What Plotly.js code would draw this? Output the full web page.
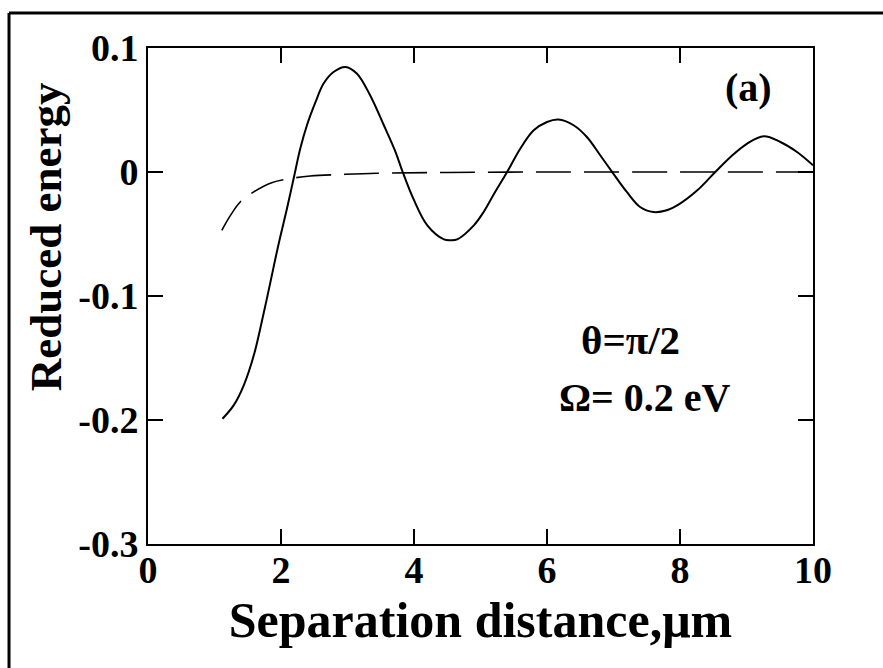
<!DOCTYPE html>
<html>
<head>
<meta charset="utf-8">
<script src="https://cdn.plot.ly/plotly-3.0.1.min.js"></script>
<style>html,body{margin:0;padding:0;background:#fff;} #chart{width:883px;height:668px;}</style>
</head>
<body>
<div id="chart"></div>
<script>
// Solid curve (oscillating reduced energy)
const solidX = [1.12,1.29,1.44,1.59,1.71,1.84,1.96,2.09,2.19,2.29,2.39,2.52,2.64,2.79,2.97,3.14,3.34,3.54,3.72,3.83,3.99,4.20,4.45,4.55,4.65,4.90,5.05,5.20,5.40,5.60,5.80,6.00,6.17,6.40,6.60,6.80,7.00,7.20,7.40,7.60,7.80,8.00,8.26,8.53,8.76,9.01,9.26,9.51,9.76,10.0];
const solidY = [-0.199,-0.188,-0.172,-0.148,-0.121,-0.089,-0.059,-0.0295,-0.0053,0.0189,0.0377,0.0565,0.0713,0.0806,0.0847,0.0794,0.0619,0.0385,0.0165,0.0,-0.0215,-0.043,-0.0543,-0.055,-0.0543,-0.043,-0.032,-0.018,0.0,0.019,0.0336,0.0403,0.0423,0.0377,0.0282,0.0135,-0.0015,-0.0161,-0.0282,-0.0323,-0.0309,-0.0255,-0.0148,0.0,0.0121,0.0229,0.0288,0.0242,0.0161,0.0054];
// Dashed curve
const dashX = [1.11,1.24,1.39,1.59,1.86,2.14,2.44,2.94,3.44,4.5,6,8,10];
const dashY = [-0.047,-0.035,-0.024,-0.016,-0.0086,-0.0053,-0.0032,-0.0019,-0.001,-0.0004,0,0,0];
// Tick labels
const xTickVals = [0,2,4,6,8,10];
const xTickText = ["0","2","4","6","8","10"];
const yTickVals = [-0.3,-0.2,-0.1,0,0.1];
const yTickText = ["-0.3","-0.2","-0.1","0","0.1"];

const FONT = "Liberation Serif, Times New Roman, serif";

const traces = [
  {x: dashX, y: dashY, mode: "lines", line: {color: "#000", width: 1.6, dash: "35px,13px", shape: "spline", smoothing: 1}, hoverinfo: "skip"},
  {x: solidX, y: solidY, mode: "lines", line: {color: "#000", width: 2, shape: "spline", smoothing: 1}, hoverinfo: "skip"}
];

const axisCommon = {
  showgrid: false, zeroline: false, showline: true, linecolor: "#000", linewidth: 2,
  mirror: "ticks", ticks: "inside", ticklen: 15, tickwidth: 2, tickcolor: "#000",
  tickfont: {family: FONT, size: 38, color: "#000", weight: "bold"}
};

const layout = {
  width: 883, height: 668,
  margin: {l: 148, r: 70, t: 48, b: 124},
  paper_bgcolor: "#fff", plot_bgcolor: "#fff",
  showlegend: false,
  xaxis: Object.assign({}, axisCommon, {
    range: [0, 10], tickmode: "array", tickvals: xTickVals, ticktext: xTickText,
    ticklabelstandoff: -9,
    title: {text: "Separation distance,\u03bcm", font: {family: FONT, size: 50, color: "#000", weight: "bold"}, standoff: 12}
  }),
  yaxis: Object.assign({}, axisCommon, {
    range: [-0.3, 0.1], tickmode: "array", tickvals: yTickVals, ticktext: yTickText
  }),
  annotations: [
    {xref: "paper", yref: "paper", x: -0.153, y: 0.619, xanchor: "center", yanchor: "middle", text: "Reduced energy", textangle: -90, showarrow: false,
     font: {family: FONT, size: 45, color: "#000", weight: "bold"}},
    {xref: "x", yref: "y", x: 9.03, y: 0.068, xanchor: "center", yanchor: "middle", text: "(a)", showarrow: false,
     font: {family: FONT, size: 40, color: "#000", weight: "bold"}},
    {xref: "x", yref: "y", x: 7.25, y: -0.1357, xanchor: "center", yanchor: "middle", text: "\u03b8=\u03c0/2", showarrow: false,
     font: {family: FONT, size: 41, color: "#000", weight: "bold"}},
    {xref: "x", yref: "y", x: 7.48, y: -0.1817, xanchor: "center", yanchor: "middle", text: "\u03a9= 0.2 eV", showarrow: false,
     font: {family: FONT, size: 40, color: "#000", weight: "bold"}}
  ],
  shapes: [
    {type: "line", xref: "paper", yref: "paper", x0: -0.209, x1: -0.209, y0: -0.4, y1: 1.0706, line: {color: "#000", width: 3}},
    {type: "line", xref: "paper", yref: "paper", x0: -0.209, x1: 1.2, y0: 1.0706, y1: 1.0706, line: {color: "#000", width: 3}}
  ]
};

Plotly.newPlot("chart", traces, layout, {displayModeBar: false, staticPlot: true});
</script>
</body>
</html>
